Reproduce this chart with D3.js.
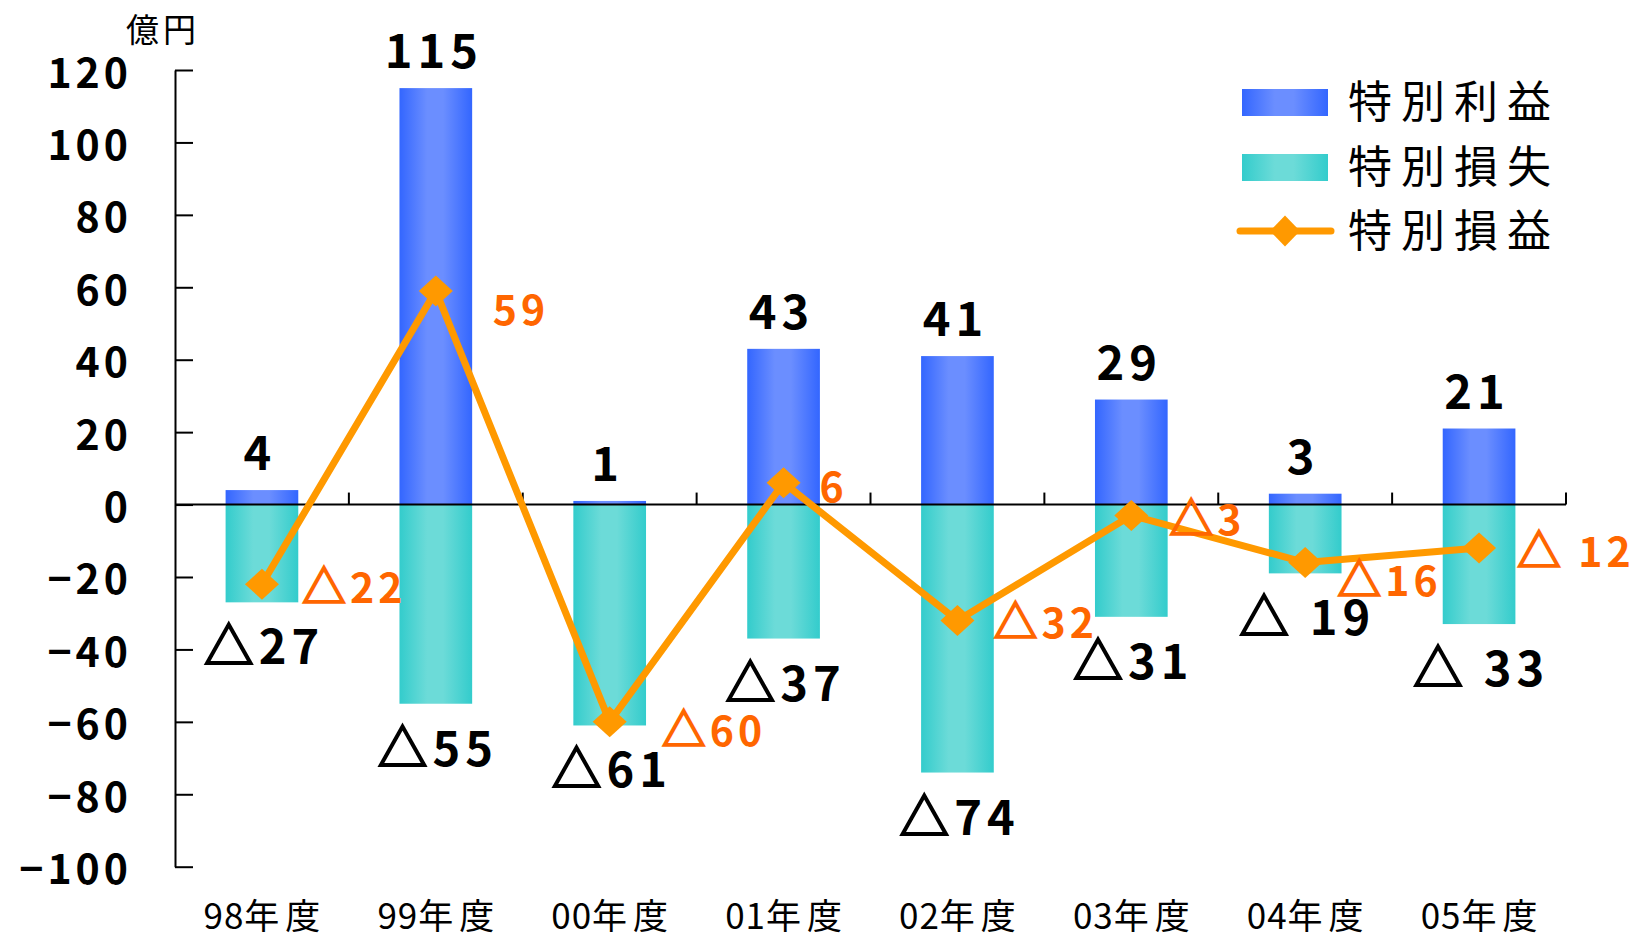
<!DOCTYPE html>
<html><head><meta charset="utf-8">
<script src="https://cdn.jsdelivr.net/npm/d3@7"></script>
<style>body{margin:0;background:#fff;} svg{display:block;}</style>
</head><body>
<svg id="chart" width="1648" height="938"></svg>
<script>
// ---- data ----
const categories = ["98年度","99年度","00年度","01年度","02年度","03年度","04年度","05年度"];
const profit = [4, 115, 1, 43, 41, 29, 3, 21];          // 特別利益
const loss = [-27, -55, -61, -37, -74, -31, -19, -33];  // 特別損失
const net = [-22, 59, -60, 6, -32, -3, -16, -12];       // 特別損益
const profitLabels = ["4","115","1","43","41","29","3","21"];
const lossLabels = ["△27","△55","△61","△37","△74","△31","△ 19","△ 33"];
const netLabels = ["△22","59","△60","6","△32","△3","△16","△ 12"];
const yTicks = [120, 100, 80, 60, 40, 20, 0, -20, -40, -60, -80, -100];
const seriesNames = ["特別利益","特別損失","特別損益"];
const unitLabel = "億円";

// ---- layout ----
const netLabelOffsets = [[40,19],[57,34],[52,24],[36,19],[36,18],[38,20],[32,33],[38,19]];
const FONT = "'Noto Sans CJK JP','Noto Sans',sans-serif";
const svg = d3.select("#chart");
const y = d3.scaleLinear().domain([-100, 120]).range([866.7, 70]);
const x = d3.scaleBand().domain(categories).range([175, 1566]);
const bw = x.bandwidth() * 0.418;
const cx = i => x(categories[i]) + x.bandwidth() / 2;

const defs = svg.append("defs");
function grad(id, edge, mid) {
  const g = defs.append("linearGradient").attr("id", id).attr("x1", 0).attr("x2", 1).attr("y1", 0).attr("y2", 0);
  [[0, edge], [0.38, mid], [0.6, mid], [1, edge]].forEach(([o, c]) =>
    g.append("stop").attr("offset", o).attr("stop-color", c));
}
grad("gBlue", "#3366ff", "#6b8eff");
grad("gTeal", "#33cccc", "#6cdbd8");

// split a label into triangle part and the rest, triangle drawn heavier
function richText(sel, str, triSize, color) {
  sel.each(function (d, i) {
    const s = str(d, i);
    const t = d3.select(this);
    const m = s.match(/^(△)(.*)$/);
    if (m) {
      t.append("tspan").text(m[1]).style("font-size", triSize + "px")
        .attr("stroke", color).attr("stroke-width", 1.8).attr("stroke-linejoin", "miter");
      t.append("tspan").text(m[2]);
    } else t.text(s);
  });
}

// bars
svg.append("g").selectAll("rect").data(profit).join("rect")
  .attr("x", (d, i) => cx(i) - bw / 2).attr("width", bw)
  .attr("y", d => y(d)).attr("height", d => y(0) - y(d))
  .attr("fill", "url(#gBlue)");
svg.append("g").selectAll("rect").data(loss).join("rect")
  .attr("x", (d, i) => cx(i) - bw / 2).attr("width", bw)
  .attr("y", y(0)).attr("height", d => y(d) - y(0))
  .attr("fill", "url(#gTeal)");

// y axis
const yAxis = svg.append("g").attr("transform", "translate(175,0)")
  .call(d3.axisLeft(y).tickValues(yTicks).tickSizeInner(-18).tickSizeOuter(0).tickPadding(43)
    .tickFormat(d => d < 0 ? "−" + Math.abs(d) : String(d)));
yAxis.select(".domain").attr("stroke", "#000").attr("stroke-width", 2);
yAxis.selectAll(".tick line").attr("stroke", "#000").attr("stroke-width", 2);
yAxis.selectAll(".tick text").attr("dy", 17).attr("fill", "#000")
  .style("font-family", FONT).style("font-size", "41px").style("font-weight", "bold").style("letter-spacing", "4px");

// x axis line and ticks
const xAxis = svg.append("g");
xAxis.append("line").attr("x1", 175).attr("x2", 1566).attr("y1", y(0)).attr("y2", y(0))
  .attr("stroke", "#000").attr("stroke-width", 2);
xAxis.selectAll("line.t").data(categories).join("line").attr("class", "t")
  .attr("x1", d => x(d) + x.bandwidth()).attr("x2", d => x(d) + x.bandwidth())
  .attr("y1", y(0)).attr("y2", y(0) - 12).attr("stroke", "#000").attr("stroke-width", 2);
xAxis.selectAll("text").data(categories).join("text")
  .attr("x", d => x(d) + x.bandwidth() / 2 + 3).attr("y", 929)
  .attr("text-anchor", "middle")
  .style("font-family", FONT).style("font-size", "35px")
  .each(function (d) {
    const t = d3.select(this);
    t.append("tspan").text(d.slice(0, 2)).style("letter-spacing", "1px");
    t.append("tspan").text(d.slice(2)).style("letter-spacing", "6px");
  });

// unit label
svg.append("text").attr("x", 163).attr("y", 42).attr("text-anchor", "middle").text(unitLabel)
  .style("font-family", FONT).style("font-size", "33px").style("letter-spacing", "4px");

// net line
const line = d3.line().x((d, i) => cx(i)).y(d => y(d));
svg.append("path").datum(net).attr("d", line).attr("fill", "none")
  .attr("stroke", "#ff9900").attr("stroke-width", 7).attr("stroke-linejoin", "round");
const diamond = "M0,-15.5L17,0L0,15.5L-17,0Z";
svg.append("g").selectAll("path").data(net).join("path")
  .attr("transform", (d, i) => `translate(${cx(i)},${y(d)})`).attr("d", diamond).attr("fill", "#ff9900");

// labels
svg.append("g").selectAll("text").data(profit).join("text")
  .attr("x", (d, i) => cx(i) - 2).attr("y", d => y(d) - 20).attr("text-anchor", "middle")
  .text((d, i) => profitLabels[i])
  .style("font-family", FONT).style("font-size", "47px").style("font-weight", "bold").style("letter-spacing", "5px");
svg.append("g").selectAll("text").data(loss).join("text")
  .attr("x", (d, i) => cx(i) + 2).attr("y", d => y(d) + 62).attr("text-anchor", "middle")
  .style("font-family", FONT).style("font-size", "47px").style("font-weight", "bold").style("letter-spacing", "5px")
  .call(richText, (d, i) => lossLabels[i], 50, "#000");
svg.append("g").selectAll("text").data(net).join("text")
  .attr("x", (d, i) => cx(i) + netLabelOffsets[i][0]).attr("y", (d, i) => y(d) + netLabelOffsets[i][1])
  .attr("fill", "#ff6600")
  .style("font-family", FONT).style("font-size", "41px").style("font-weight", "bold").style("letter-spacing", "4px")
  .call(richText, (d, i) => netLabels[i], 44, "#ff6600");

// legend
const lg = svg.append("g");
lg.append("rect").attr("x", 1242).attr("y", 89).attr("width", 86).attr("height", 27).attr("fill", "url(#gBlue)");
lg.append("rect").attr("x", 1242).attr("y", 154).attr("width", 86).attr("height", 27).attr("fill", "url(#gTeal)");
lg.append("line").attr("x1", 1240).attr("x2", 1331).attr("y1", 231).attr("y2", 231)
  .attr("stroke", "#ff9900").attr("stroke-width", 7).attr("stroke-linecap", "round");
lg.append("path").attr("transform", "translate(1285,231)").attr("d", "M0,-15.5L15,0L0,15.5L-15,0Z").attr("fill", "#ff9900");
lg.selectAll("text").data(seriesNames).join("text")
  .attr("x", 1348).attr("y", (d, i) => 118 + i * 64.5).text(d => d)
  .style("font-family", FONT).style("font-size", "44px").style("letter-spacing", "9px");
</script>
</body></html>
